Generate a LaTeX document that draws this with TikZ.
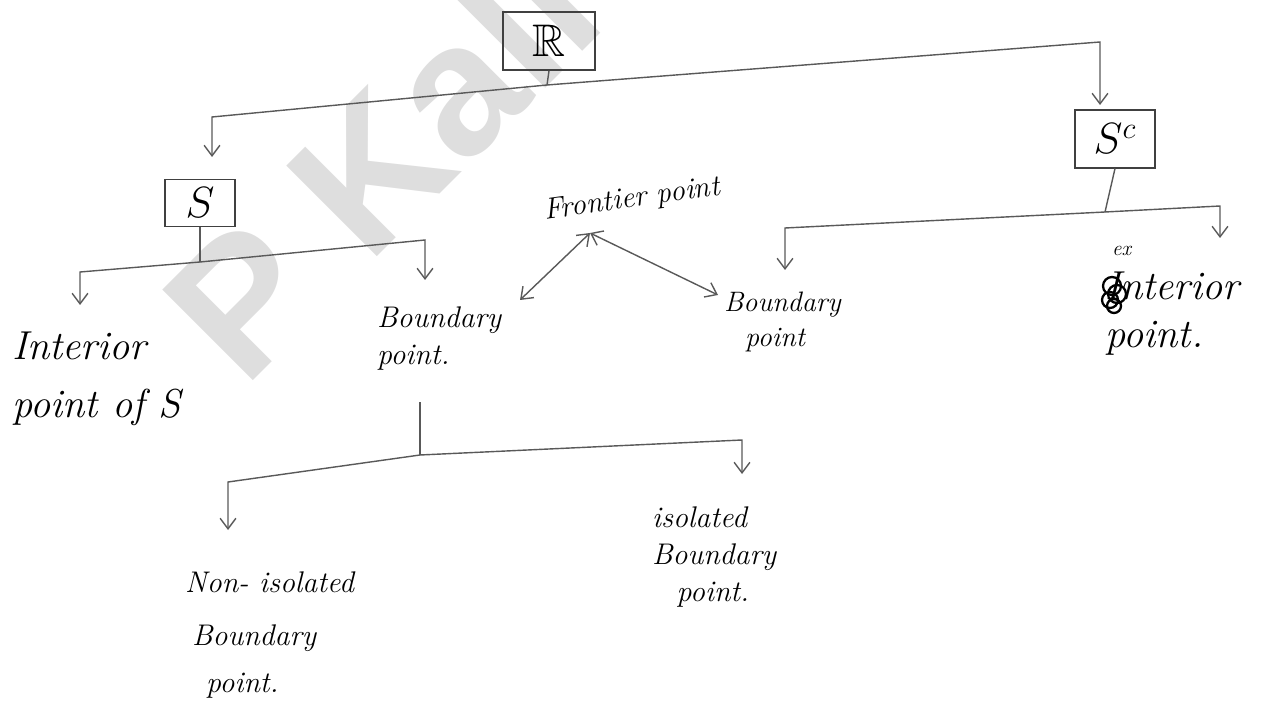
\documentclass[tikz,border=0pt]{standalone}
\usepackage{amssymb}
\usepackage{fontspec}
\newfontfamily\wmfont{Liberation Sans}
\usetikzlibrary{arrows.meta}
\tikzset{
  hand/.style={font=\fontsize{17}{21}\selectfont\itshape, align=left, inner sep=1pt},
  bighand/.style={hand, font=\fontsize{23}{27}\selectfont\itshape},
  setbox/.style={draw=black!75, line width=0.9pt, font=\fontsize{26}{30}\selectfont},
  pen/.style={draw=black!65, line width=0.8pt},
  down/.style={pen, -{Straight Barb[length=6pt,width=9pt]}},
  both/.style={pen, {Straight Barb[length=6pt,width=9pt]}-{Straight Barb[length=6pt,width=9pt]}}
}
\begin{document}
\begin{tikzpicture}[x=0.02cm, y=-0.02cm]
	\useasboundingbox (0,0) rectangle (1274,709);
	\node[text=black!13, rotate=45, anchor=base west, inner sep=0pt, font=\wmfont\bfseries\fontsize{106}{106}\selectfont] (mark) at (244,390) {P Kall};

	\node[setbox, minimum width=1.85cm, minimum height=1.16cm] (R) at (549,41) {$\mathbb{R}$};
	\node[setbox, minimum width=1.4cm, minimum height=0.94cm] (S) at (200,203) {$S$};
	\node[setbox, minimum width=1.6cm, minimum height=1.15cm] (Sc) at (1115,139) {$S^c$};

	\node[bighand, anchor=north west] (ins) at (10,330) {Interior\\[6pt]point of S};
	\node[hand, anchor=north west] (bd) at (375,305) {Boundary\\point.};
	\node[hand, rotate=8] (fr) at (632,200) {Frontier point};
	\node[hand, font=\fontsize{16}{20}\selectfont\itshape, anchor=north west] (bdc) at (722,290) {Boundary\\\hspace*{12pt}point};
	\node[hand, font=\fontsize{12}{14}\selectfont\itshape, anchor=north west] (ex) at (1110,244) {ex};
	\node[bighand, anchor=north west] (ext) at (1103,270) {Interior\\point.};
	\node[hand, anchor=north west] (nis) at (183,570) {Non- isolated\\[9pt]\hspace*{4pt}Boundary\\[6pt]\hspace*{12pt}point.};
	\node[hand, anchor=north west] (iso) at (650,505) {isolated\\Boundary\\\hspace*{14pt}point.};

	\draw[line width=1.3pt] (1112,286) circle (9);
	\draw[line width=1.3pt] (1117,294) circle (9);
	\draw[line width=1.3pt] (1110,300) circle (8);
	\draw[line width=1.3pt] (1114,306) circle (7);

	\coordinate (rj) at (547,85);
	\coordinate (rl) at (212,117);
	\coordinate (rla) at (212,157);
	\coordinate (rr) at (1100,42);
	\coordinate (rra) at (1100,105);
	\draw[pen] (R.south) -- (rj);
	\draw[down] (rj) -- (rl) -- (rla);
	\draw[down] (rj) -- (rr) -- (rra);

	\coordinate (sj) at (200,262);
	\coordinate (sl) at (80,272);
	\coordinate (sla) at (80,305);
	\coordinate (sr) at (425,240);
	\coordinate (sra) at (425,280);
	\draw[pen] (S.south) -- (sj);
	\draw[down] (sj) -- (sl) -- (sla);
	\draw[down] (sj) -- (sr) -- (sra);

	\coordinate (cj) at (1105,212);
	\coordinate (cl) at (785,228);
	\coordinate (cla) at (785,270);
	\coordinate (cr) at (1220,206);
	\coordinate (cra) at (1220,238);
	\draw[pen] (Sc.south) -- (cj);
	\draw[down] (cj) -- (cl) -- (cla);
	\draw[down] (cj) -- (cr) -- (cra);

	\coordinate (fa) at (590,233);
	\coordinate (fl) at (520,300);
	\coordinate (fb) at (718,295);
	\draw[both] (fa) -- (fl);
	\draw[both] (fa) -- (fb);

	\coordinate (bt) at (420,402);
	\coordinate (bj) at (420,455);
	\coordinate (bl) at (228,482);
	\coordinate (bla) at (228,530);
	\coordinate (br) at (742,440);
	\coordinate (bra) at (742,474);
	\draw[pen] (bt) -- (bj);
	\draw[down] (bj) -- (bl) -- (bla);
	\draw[down] (bj) -- (br) -- (bra);
\end{tikzpicture}
\end{document}
